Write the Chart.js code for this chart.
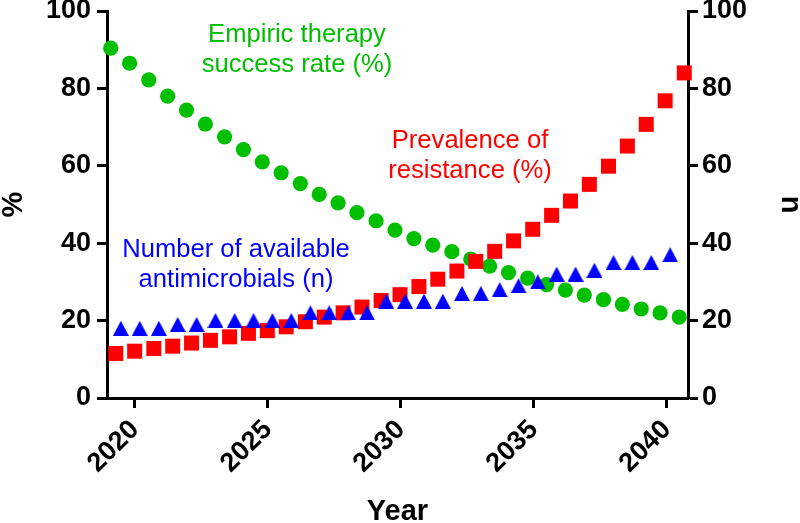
<!DOCTYPE html>
<html>
<head>
<meta charset="utf-8">
<script src="https://cdn.jsdelivr.net/npm/chart.js@4/dist/chart.umd.min.js"></script>
<style>
  html, body { margin: 0; padding: 0; background: #fff; }
  #wrap { width: 800px; height: 523px; position: relative; }
</style>
</head>
<body>
<div id="wrap"><canvas id="c"></canvas></div>
<script>
/* empiric therapy vs resistance — three scatter series, twin y axes */
const FONT = '"Liberation Sans", Arial, sans-serif';
const GREEN = "#00BF00", RED = "#FF0000", BLUE = "#0000FF";

// empiric therapy success rate (%)
const successYears = [2019.09, 2019.80, 2020.52, 2021.23, 2021.94, 2022.65, 2023.37, 2024.08, 2024.79, 2025.50,
  2026.22, 2026.93, 2027.64, 2028.35, 2029.07, 2029.78, 2030.49, 2031.20, 2031.92, 2032.63,
  2033.34, 2034.05, 2034.77, 2035.48, 2036.19, 2036.90, 2037.62, 2038.33, 2039.04, 2039.75, 2040.47];
const successRate = [90.4, 86.5, 82.2, 78.0, 74.4, 70.8, 67.5, 64.2, 61.0, 58.2,
  55.4, 52.6, 50.4, 47.9, 45.8, 43.4, 41.2, 39.5, 37.8, 35.9,
  34.1, 32.4, 31.0, 29.3, 27.9, 26.6, 25.4, 24.2, 23.0, 22.0, 20.9];

// prevalence of resistance (%)
const resistYears = [2019.28, 2019.99, 2020.71, 2021.42, 2022.13, 2022.84, 2023.56, 2024.27, 2024.98, 2025.69,
  2026.41, 2027.12, 2027.83, 2028.54, 2029.26, 2029.97, 2030.68, 2031.39, 2032.11, 2032.82,
  2033.53, 2034.24, 2034.96, 2035.67, 2036.38, 2037.09, 2037.81, 2038.52, 2039.23, 2039.94, 2040.66];
const resistance = [11.5, 12.1, 12.8, 13.4, 14.2, 14.9, 15.8, 16.7, 17.4, 18.4,
  19.7, 20.9, 22.0, 23.5, 25.2, 26.7, 28.8, 30.7, 32.8, 35.3,
  37.9, 40.6, 43.6, 47.2, 50.9, 55.2, 59.9, 65.1, 70.7, 76.8, 84.0];

// number of available antimicrobials (n)
const drugYears = [2019.47, 2020.18, 2020.90, 2021.61, 2022.32, 2023.03, 2023.75, 2024.46, 2025.17, 2025.88,
  2026.60, 2027.31, 2028.02, 2028.73, 2029.45, 2030.16, 2030.87, 2031.58, 2032.30, 2033.01,
  2033.72, 2034.43, 2035.15, 2035.86, 2036.57, 2037.28, 2038.00, 2038.71, 2039.42, 2040.13];
const drugCount = [18, 18, 18, 19, 19, 20, 20, 20, 20, 20,
  22, 22, 22, 22, 25, 25, 25, 25, 27, 27,
  28, 29, 30, 32, 32, 33, 35, 35, 35, 37];

const xTicks = [2020, 2025, 2030, 2035, 2040];
const yTicks = [0, 20, 40, 60, 80, 100];

const pts = (xs, ys) => xs.map((x, i) => ({ x, y: ys[i] }));

// triangle marker centred on its box (like the original software draws it)
function triMarker(w, h, color) {
  const cv = document.createElement("canvas");
  cv.width = w; cv.height = h;
  const g = cv.getContext("2d");
  g.fillStyle = color;
  g.beginPath(); g.moveTo(w / 2, 0); g.lineTo(w, h); g.lineTo(0, h); g.closePath(); g.fill();
  return cv;
}

// series captions, drawn on the plot
const captions = [
  { lines: ["Empiric therapy", "success rate (%)"], color: GREEN, x: 297, y: 42 },
  { lines: ["Prevalence of", "resistance (%)"], color: RED, x: 470, y: 148 },
  { lines: ["Number of available", "antimicrobials (n)"], color: BLUE, x: 236, y: 257 },
];
const captionPlugin = {
  id: "captions",
  beforeDatasetsDraw(chart) {
    const ctx = chart.ctx;
    ctx.save();
    ctx.font = `25.6px ${FONT}`;
    ctx.textAlign = "center";
    ctx.textBaseline = "alphabetic";
    captions.forEach((c) => {
      ctx.fillStyle = c.color;
      c.lines.forEach((t, i) => ctx.fillText(t, c.x, c.y + i * 30));
    });
    ctx.restore();
  },
};

const tickFont = { family: FONT, size: 27, weight: "bold" };
const titleFont = { family: FONT, size: 29, weight: "bold", lineHeight: 0.8 };
const axisLine = { display: true, color: "#000", width: 3 };
const gridTicks = { display: true, drawOnChartArea: false, drawTicks: true, tickLength: 10, tickWidth: 3, tickColor: "#000" };
const setTicks = (vals) => (s) => { s.ticks = vals.map((v) => ({ value: v })); };
const noPad = (s) => { s.paddingTop = 0; s.paddingBottom = 0; s.paddingLeft = 0; s.paddingRight = 0; };

new Chart(document.getElementById("c"), {
  type: "scatter",
  data: {
    datasets: [
      { data: pts(drugYears, drugCount), yAxisID: "y2", pointStyle: triMarker(16, 15, BLUE), pointRadius: 8,
        backgroundColor: BLUE, borderColor: BLUE, borderWidth: 0, clip: false },
      { data: pts(resistYears, resistance), yAxisID: "y", pointStyle: "rect", pointRadius: 10.6, pointHoverRadius: 10.6,
        backgroundColor: RED, borderColor: RED, borderWidth: 0, clip: false },
      { data: pts(successYears, successRate), yAxisID: "y", pointStyle: "circle", pointRadius: 7.6, pointHoverRadius: 7.6,
        backgroundColor: GREEN, borderColor: GREEN, borderWidth: 0, clip: false },
    ],
  },
  options: {
    responsive: true, maintainAspectRatio: false, animation: false,
    layout: { padding: { top: 11, left: 0, right: 0, bottom: 0 }, autoPadding: false },
    plugins: { legend: { display: false }, tooltip: { enabled: false } },
    scales: {
      x: {
        type: "linear", min: 2018.95, max: 2040.8,
        afterBuildTicks: setTicks(xTicks),
        afterFit: (s) => { s.height = 125; noPad(s); },
        border: axisLine, grid: gridTicks,
        ticks: { color: "#000", font: tickFont, padding: 6, minRotation: 45, maxRotation: 45, autoSkip: false, callback: (v) => String(v) },
        title: { display: true, text: "Year", color: "#000", font: { family: FONT, size: 29, weight: "bold", lineHeight: 1 }, padding: { top: 0, bottom: -3 } },
      },
      y: {
        position: "left", min: 0, max: 100,
        afterBuildTicks: setTicks(yTicks),
        afterFit: (s) => { s.width = 107; noPad(s); },
        border: axisLine, grid: gridTicks,
        ticks: { color: "#000", font: tickFont, padding: 6 },
        title: { display: true, text: "%", color: "#000", font: titleFont, padding: { top: 2, bottom: 0 } },
      },
      y2: {
        position: "right", min: 0, max: 100,
        afterBuildTicks: setTicks(yTicks),
        afterFit: (s) => { s.width = 112; noPad(s); },
        border: axisLine, grid: gridTicks,
        ticks: { color: "#000", font: tickFont, padding: 4 },
        title: { display: true, text: "n", color: "#000", font: titleFont, padding: { top: -2, bottom: 0 } },
      },
    },
  },
  plugins: [captionPlugin],
});
</script>
</body>
</html>
